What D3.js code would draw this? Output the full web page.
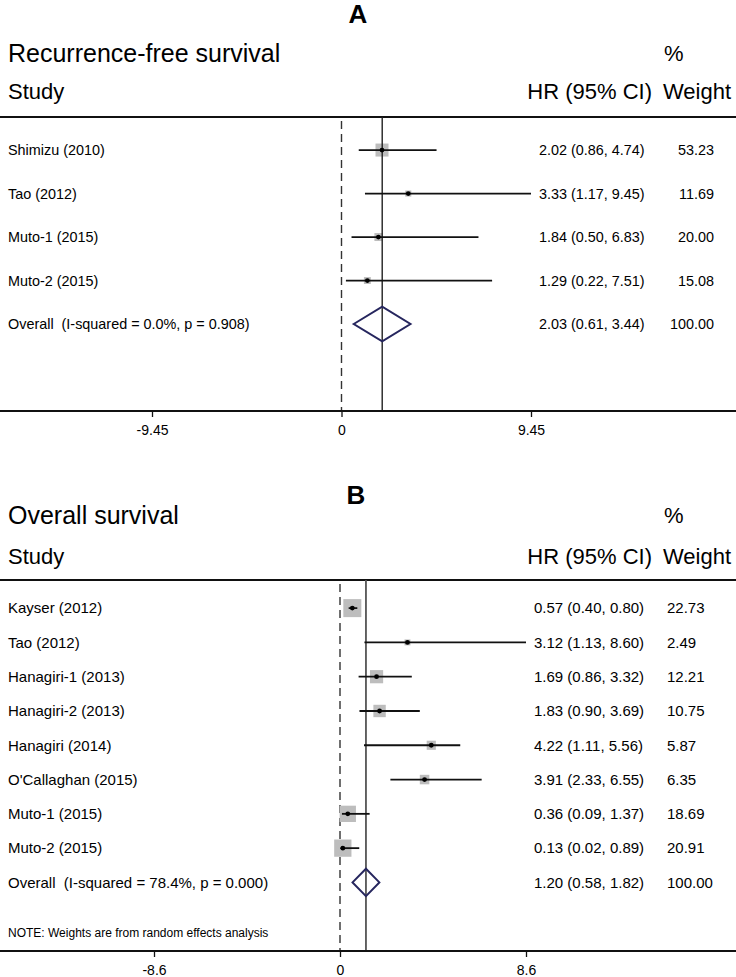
<!DOCTYPE html>
<html><head><meta charset="utf-8">
<script src="https://cdn.jsdelivr.net/npm/d3@7"></script>
<style>
body{margin:0;background:#fff}
svg{display:block}
text{font-family:"Liberation Sans",Arial,Helvetica,sans-serif;fill:#000;white-space:pre}
</style>
</head><body>
<svg id="c" width="736" height="977"></svg>
<script>
// ---------- Panel A: Recurrence-free survival ----------
const rfsStudies = ["Shimizu (2010)", "Tao (2012)", "Muto-1 (2015)", "Muto-2 (2015)"];
const rfsHR      = [2.02, 3.33, 1.84, 1.29];
const rfsLower   = [0.86, 1.17, 0.50, 0.22];
const rfsUpper   = [4.74, 9.45, 6.83, 7.51];
const rfsWeight  = [53.23, 11.69, 20.00, 15.08];
const rfsOverall = [2.03, 0.61, 3.44];
const rfsOverallLabel = "Overall  (I-squared = 0.0%, p = 0.908)";
const rfsTicks   = [-9.45, 0, 9.45];

// ---------- Panel B: Overall survival ----------
const osStudies = ["Kayser (2012)", "Tao (2012)", "Hanagiri-1 (2013)", "Hanagiri-2 (2013)",
                   "Hanagiri (2014)", "O'Callaghan (2015)", "Muto-1 (2015)", "Muto-2 (2015)"];
const osHR      = [0.57, 3.12, 1.69, 1.83, 4.22, 3.91, 0.36, 0.13];
const osLower   = [0.40, 1.13, 0.86, 0.90, 1.11, 2.33, 0.09, 0.02];
const osUpper   = [0.80, 8.60, 3.32, 3.69, 5.56, 6.55, 1.37, 0.89];
const osWeight  = [22.73, 2.49, 12.21, 10.75, 5.87, 6.35, 18.69, 20.91];
const osOverall = [1.20, 0.58, 1.82];
const osOverallLabel = "Overall  (I-squared = 78.4%, p = 0.000)";
const osTicks   = [-8.6, 0, 8.6];

const svg = d3.select("#c");
const W = 736;
const fmt2 = v => v.toFixed(2);

function drawPanel(d, L) {
  const g = svg.append("g");
  const n = d.studies.length;
  const nRows = n + 1;

  const x = d3.scaleLinear().domain([d.ticks[0], d.ticks[d.ticks.length - 1]]).range(L.tickPx);
  const y = d3.scaleLinear().domain([-L.topPad, nRows + 1]).range([L.ruleY, L.axisY]);
  const step = y(1) - y(0);
  const box = d3.scaleSqrt().domain([0, d3.max(d.weight)]).range([0, L.boxMax]);

  // panel letter
  g.append("text").attr("x", L.letterX).attr("y", L.letterY).attr("dy", "0.35em")
    .attr("text-anchor", "middle").attr("font-weight", "bold").attr("font-size", 26).text(d.letter);
  // title and headers
  g.append("text").attr("x", 8).attr("y", L.titleY).attr("dy", "0.35em").attr("font-size", 25).text(d.title);
  g.append("text").attr("x", 664).attr("y", L.titleY).attr("dy", "0.35em").attr("font-size", 22).text("%");
  g.append("text").attr("x", 8).attr("y", L.headY).attr("dy", "0.35em").attr("font-size", 22).text("Study");
  g.append("text").attr("x", 652).attr("y", L.headY).attr("dy", "0.35em").attr("text-anchor", "end").attr("font-size", 22).text("HR (95% CI)");
  g.append("text").attr("x", 663).attr("y", L.headY).attr("dy", "0.35em").attr("font-size", 22).text("Weight");

  // top rule
  g.append("line").attr("x1", 0).attr("x2", W).attr("y1", L.ruleY).attr("y2", L.ruleY)
    .attr("stroke", "#111").attr("stroke-width", 2);

  // null line (dashed at 0)
  g.append("line").attr("x1", x(0)).attr("x2", x(0)).attr("y1", L.ruleY + 4).attr("y2", L.axisY)
    .attr("stroke", "#333").attr("stroke-width", 1.4).attr("stroke-dasharray", "8,5");

  const rows = d.studies.map((s, i) => ({s, hr: d.hr[i], lo: d.lower[i], hi: d.upper[i], w: d.weight[i], i}));

  // squares
  g.selectAll("rect.box").data(rows).join("rect").attr("class", "box")
    .attr("x", r => x(r.hr) - box(r.w) / 2).attr("y", r => y(r.i) - box(r.w) / 2)
    .attr("width", r => box(r.w)).attr("height", r => box(r.w)).attr("fill", "#bdbdbd");

  // overall vertical line
  g.append("line").attr("x1", x(d.overall[0])).attr("x2", x(d.overall[0]))
    .attr("y1", L.ruleY).attr("y2", L.axisY).attr("stroke", L.ovColor).attr("stroke-width", L.ovWidth);

  // CI lines
  g.selectAll("line.ci").data(rows).join("line").attr("class", "ci")
    .attr("x1", r => x(r.lo)).attr("x2", r => x(r.hi)).attr("y1", r => y(r.i)).attr("y2", r => y(r.i))
    .attr("stroke", "#111").attr("stroke-width", 1.8);
  // point estimates
  g.selectAll("circle.pt").data(rows).join("circle").attr("class", "pt")
    .attr("cx", r => x(r.hr)).attr("cy", r => y(r.i)).attr("r", 2.4).attr("fill", "#000");

  // overall diamond
  const oy = y(n), h = step * 0.4;
  const [oe, olo, ohi] = d.overall;
  g.append("path")
    .attr("d", `M${x(olo)},${oy} L${x(oe)},${oy - h} L${x(ohi)},${oy} L${x(oe)},${oy + h} Z`)
    .attr("fill", "none").attr("stroke", "#26265e").attr("stroke-width", 2);

  // text columns
  const allRows = rows.concat([{s: d.overallLabel, hr: oe, lo: olo, hi: ohi, w: 100, i: n}]);
  g.selectAll("text.lab").data(allRows).join("text").attr("class", "lab")
    .attr("x", 8).attr("y", r => y(r.i)).attr("dy", "0.35em").attr("font-size", L.fs).text(r => r.s);
  g.selectAll("text.val").data(allRows).join("text").attr("class", "val")
    .attr("x", L.valX).attr("y", r => y(r.i)).attr("dy", "0.35em").attr("font-size", L.fs)
    .text(r => `${fmt2(r.hr)} (${fmt2(r.lo)}, ${fmt2(r.hi)})`);
  g.selectAll("text.wt").data(allRows).join("text").attr("class", "wt")
    .attr("x", L.wtX).attr("y", r => y(r.i)).attr("dy", "0.35em").attr("font-size", L.fs)
    .attr("text-anchor", L.wtAnchor).text(r => fmt2(r.w));

  if (d.note) {
    g.append("text").attr("x", 8).attr("y", L.noteY).attr("dy", "0.35em").attr("font-size", 12).text(d.note);
  }

  // x axis
  g.append("line").attr("x1", 0).attr("x2", W).attr("y1", L.axisY).attr("y2", L.axisY)
    .attr("stroke", "#111").attr("stroke-width", 2);
  const ax = g.append("g").attr("transform", `translate(0,${L.axisY})`)
    .call(d3.axisBottom(x).tickValues(d.ticks).tickSize(6).tickPadding(8).tickFormat(v => String(v)));
  ax.select(".domain").remove();
  ax.selectAll(".tick line").attr("stroke", "#111").attr("stroke-width", 1.3);
  ax.selectAll(".tick text").attr("font-size", 14).attr("font-family", null).attr("fill", "#000");
}

drawPanel(
  {letter: "A", title: "Recurrence-free survival", studies: rfsStudies, hr: rfsHR, lower: rfsLower,
   upper: rfsUpper, weight: rfsWeight, overall: rfsOverall, overallLabel: rfsOverallLabel, ticks: rfsTicks},
  {letterX: 358, letterY: 14, titleY: 53, headY: 91, ruleY: 117, axisY: 411, topPad: 0.76,
   tickPx: [152, 531], fs: 14.4, valX: 539, wtX: 714, wtAnchor: "end", boxMax: 13,
   ovColor: "#222", ovWidth: 1.4}
);
drawPanel(
  {letter: "B", title: "Overall survival", studies: osStudies, hr: osHR, lower: osLower,
   upper: osUpper, weight: osWeight, overall: osOverall, overallLabel: osOverallLabel, ticks: osTicks,
   note: "NOTE: Weights are from random effects analysis"},
  {letterX: 356, letterY: 495, titleY: 515, headY: 556, ruleY: 580, axisY: 951, topPad: 0.82,
   tickPx: [154, 526], fs: 15, valX: 534, wtX: 667, wtAnchor: "start", boxMax: 18,
   ovColor: "#555", ovWidth: 1.8, noteY: 933}
);
</script>
</body></html>
